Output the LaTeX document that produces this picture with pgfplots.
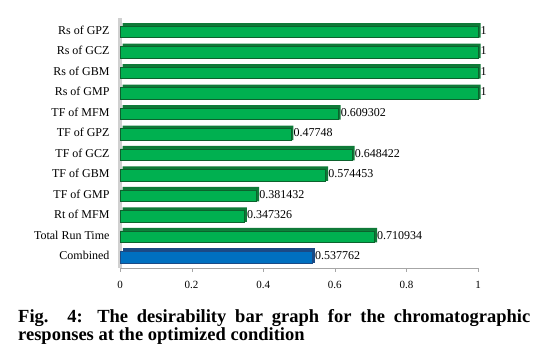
\documentclass[border=0pt]{standalone}
\usepackage{pgfplots}
\pgfplotsset{compat=1.18}
\usepackage{pgfplotstable}
\usepackage{fontspec}
\setmainfont{Liberation Serif}
\definecolor{bargreen}{HTML}{00B050}
\definecolor{bardkgreen}{HTML}{0F7A38}
\definecolor{barblue}{HTML}{0070C0}
\definecolor{bardkblue}{HTML}{1B4A85}
\definecolor{wallgray}{HTML}{D0D0D0}
\pgfplotstableread{
y x lab
1 0.710934 0.710934
2 0.347326 0.347326
3 0.381432 0.381432
4 0.574453 0.574453
5 0.648422 0.648422
6 0.47748 0.47748
7 0.609302 0.609302
8 1 1
9 1 1
10 1 1
11 1 1
}\greendata
\pgfplotstableread{
y x lab
0 0.537762 0.537762
}\bluedata
\begin{document}
\begin{tikzpicture}
\path (0pt,0pt) rectangle (538pt,361pt);
\begin{axis}[
  at={(120pt,93pt)}, anchor=south west,
  scale only axis, width=358pt, height=250pt,
  xmin=0, xmax=1, ymin=-0.6, ymax=11.6,
  xbar, bar shift=0pt,
  axis x line*=bottom, axis y line*=left,
  x axis line style={draw=gray!70, line width=0.8pt},
  y axis line style={draw=wallgray, line width=3.5pt},
  xtick={0,0.2,0.4,0.6,0.8,1},
  xticklabels={0,0.2,0.4,0.6,0.8,1},
  x tick label style={font=\fontsize{11}{12}\selectfont, yshift=-6pt},
  tick style={draw=gray!70},
  xtick align=outside, major tick length=4pt,
  ytick={0,...,11},
  yticklabels={Combined,Total Run Time,Rt of MFM,TF of GMP,TF of GBM,TF of GCZ,TF of GPZ,TF of MFM,Rs of GMP,Rs of GBM,Rs of GCZ,Rs of GPZ},
  y tick label style={font=\fontsize{12}{13}\selectfont, xshift=-3pt},
  ytick style={draw=none},
  point meta=explicit symbolic,
  every node near coord/.append style={font=\fontsize{12}{13}\selectfont, anchor=west, xshift=-1pt, inner sep=1pt},
  clip=false,
]
% back layer (top face and right face of the 3-D bars)
\addplot[fill=bardkgreen, draw=none, bar width=14.5pt, xshift=2.5pt, nodes near coords] table[x=x, y=y, meta=lab] {\greendata};
\addplot[fill=bardkblue, draw=none, bar width=14.5pt, xshift=2.5pt, nodes near coords] table[x=x, y=y, meta=lab] {\bluedata};
% front faces
\addplot[fill=bargreen, draw=bardkgreen!80!black, line width=0.4pt, bar width=11.5pt, bar shift=-1.5pt] table[x=x, y=y] {\greendata};
\addplot[fill=barblue, draw=bardkblue, line width=0.4pt, bar width=11.5pt, bar shift=-1.5pt] table[x=x, y=y] {\bluedata};
\end{axis}
\node[anchor=north west, text width=512pt, align=justify, inner sep=0pt,
  font=\bfseries\fontsize{18.5}{18.5}\selectfont] at (18pt,52pt)
  {Fig. 4: The desirability bar graph for the chromatographic \mbox{responses} at the optimized condition};
\end{tikzpicture}
\end{document}
